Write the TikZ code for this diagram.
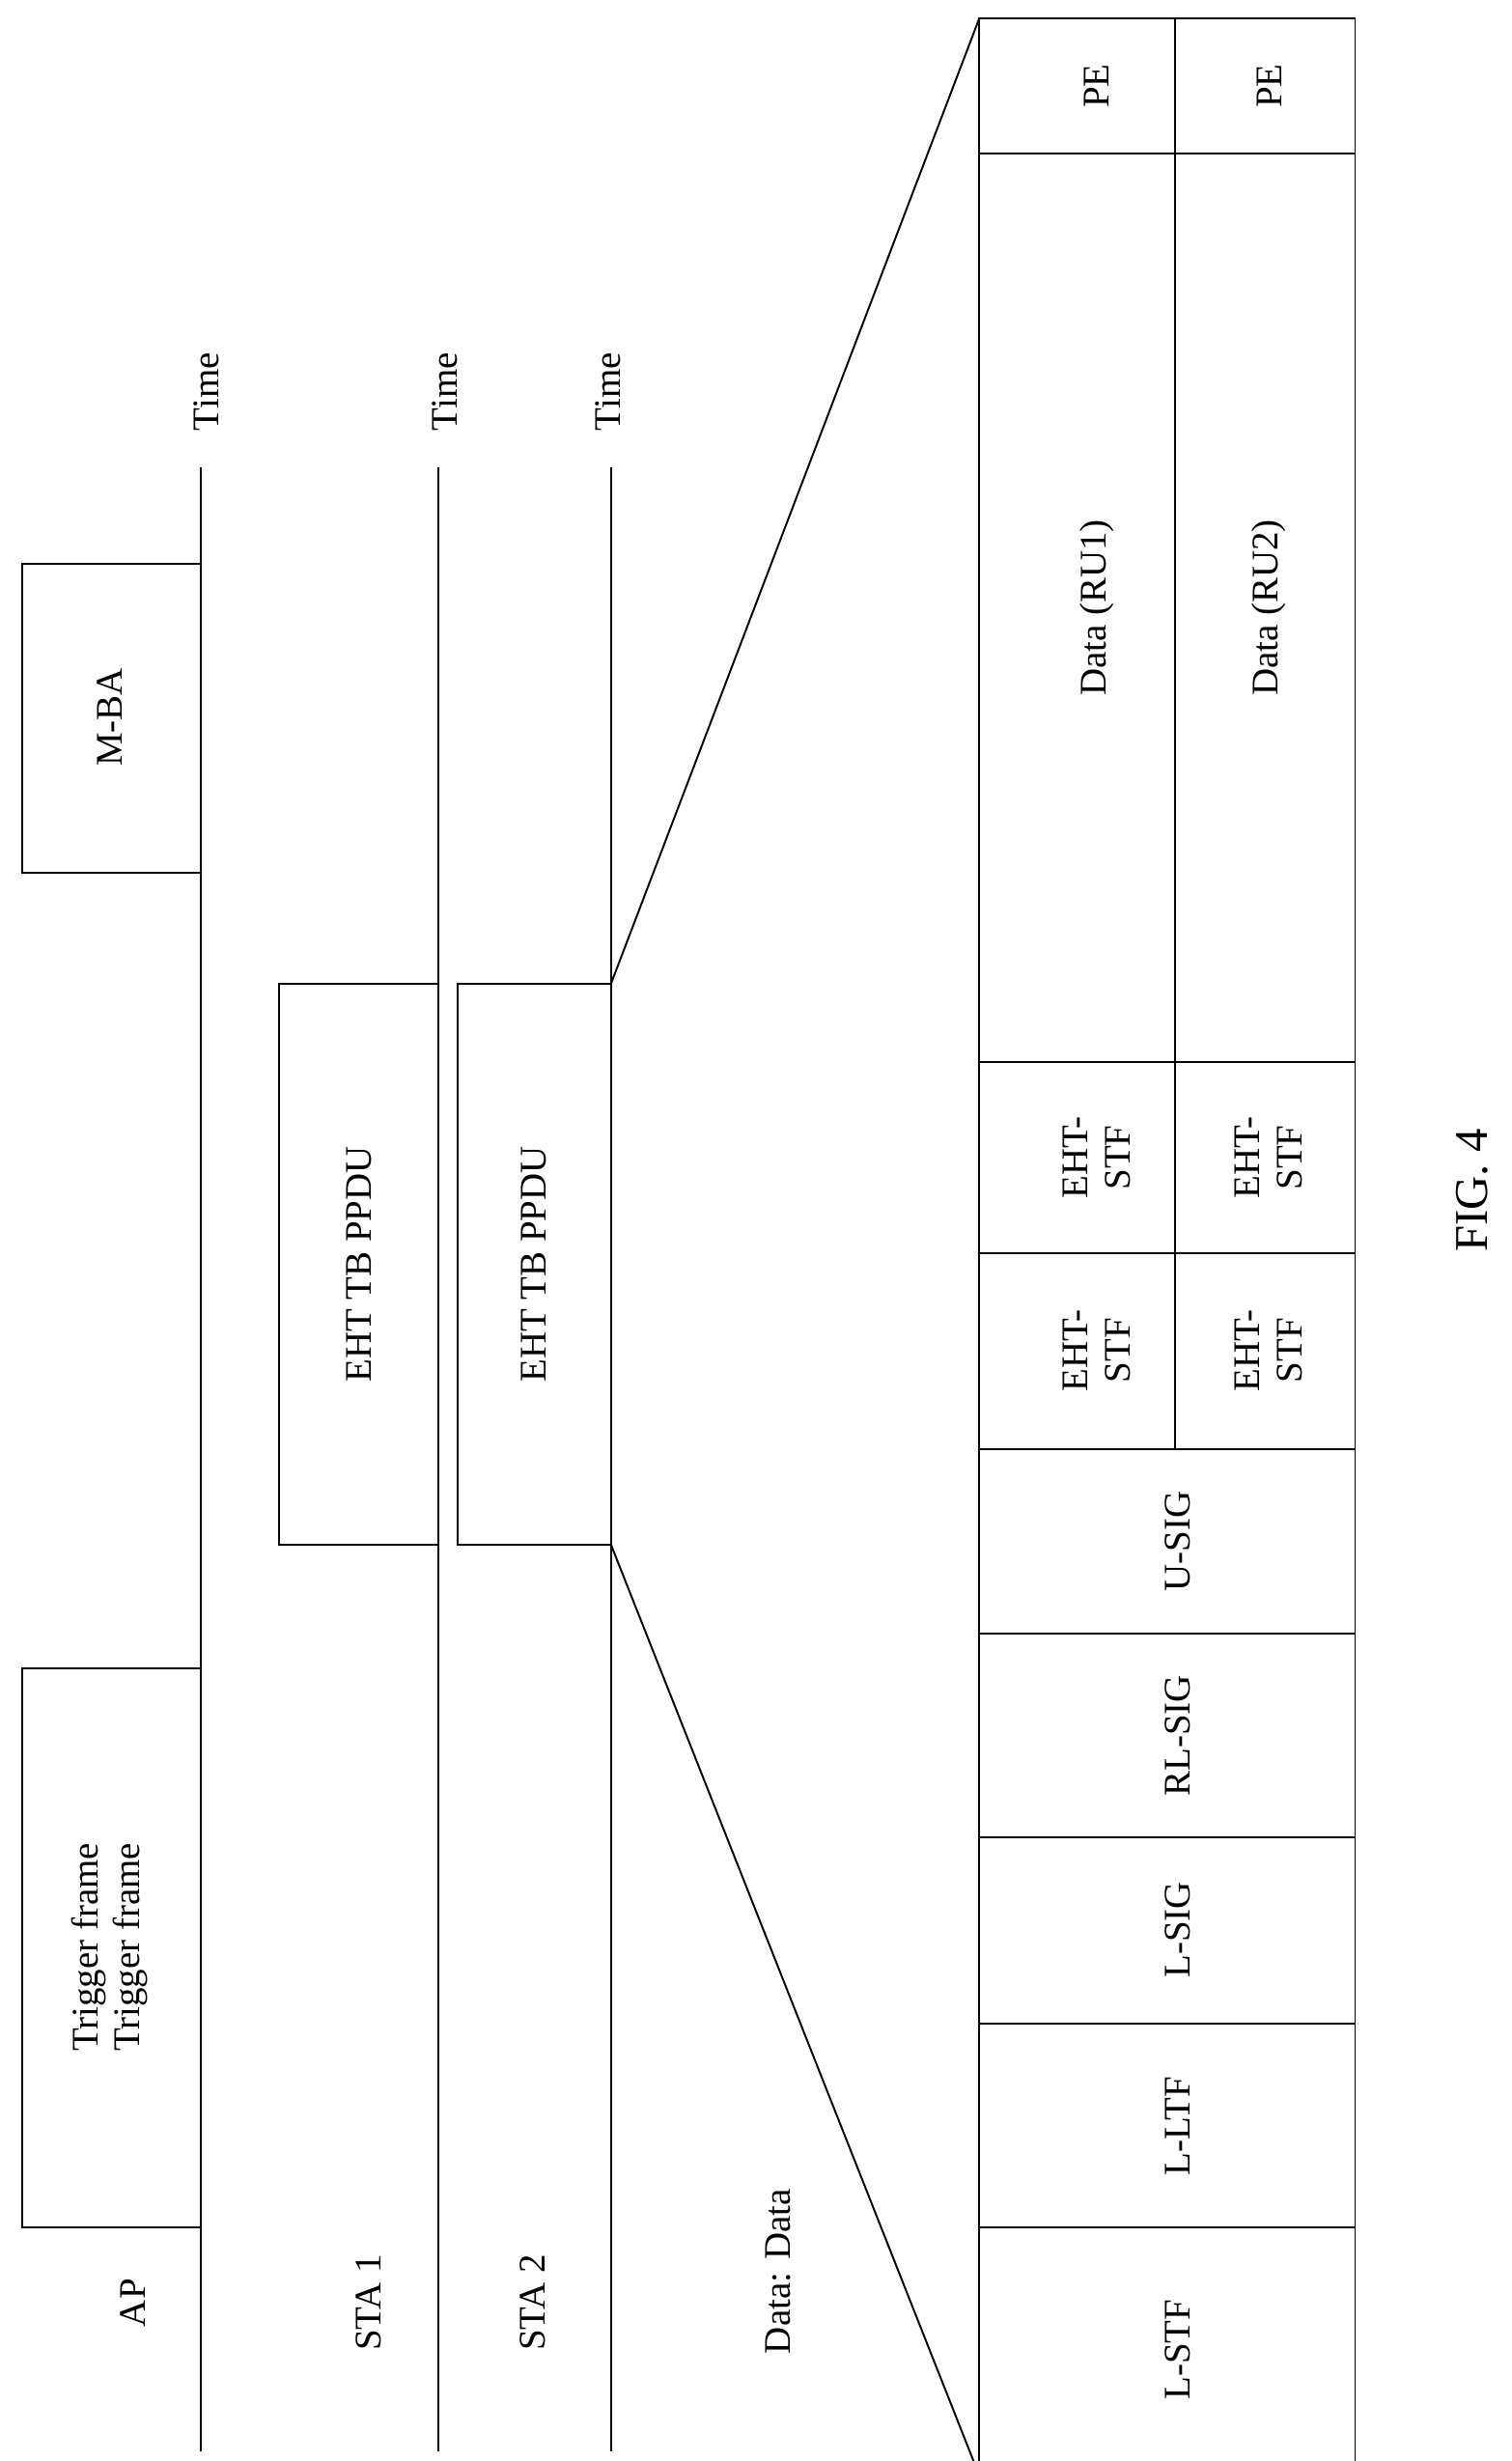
\documentclass[tikz,border=0pt]{standalone}
\usepackage{fontspec}
\setmainfont{Liberation Serif}
\begin{document}
\begin{tikzpicture}[x=1pt,y=-1pt,line width=1.2pt,
  t/.style={rotate=90,font=\fontsize{24}{27}\selectfont,align=center,inner sep=0pt},
  b/.style={draw}]
\useasboundingbox (0,0) rectangle (965,1571);
% time lines
\coordinate (ap0) at (128,1565); \coordinate (ap1) at (128,298);
\coordinate (s10) at (280,1565); \coordinate (s11) at (280,298);
\coordinate (s20) at (390,1565); \coordinate (s21) at (390,298);
\draw (ap0)--(ap1); \draw (s10)--(s11); \draw (s20)--(s21);
\node[t] (tap) at (132,250) {Time};
\node[t] (ts1) at (284,250) {Time};
\node[t] (ts2) at (388,250) {Time};
\node[t] (lap) at (85,1470) {AP};
\node[t] (ls1) at (235,1470) {STA 1};
\node[t] (ls2) at (340,1470) {STA 2};
\node[t] (ldata) at (497,1450) {Data: Data};
% boxes
\draw[fill=white] (14,1065) rectangle (128,1422);
\node[t] (trig) at (70,1243) {Trigger frame\\Trigger frame};
\draw[fill=white] (14,360) rectangle (128,557);
\node[t] (mba) at (70,458) {M-BA};
\draw[fill=white] (178,628) rectangle (280,986);
\node[t] (e1) at (229,807) {EHT TB PPDU};
\draw[fill=white] (292,628) rectangle (390,986);
\node[t] (e2) at (341,807) {EHT TB PPDU};
% zoom lines
\draw (390,986)--(625,1580);
\draw (390,628)--(625,12);
% table
\draw (625,12) rectangle (865,1580);
\draw (750,12)--(750,925);
\foreach \yy in {98,678,800,925,1043,1173,1292,1422} \draw (625,\yy)--(865,\yy);
\node[t] at (700,55) {PE};
\node[t] at (810,55) {PE};
\node[t] at (700,388) {Data (RU1)};
\node[t] at (810,388) {Data (RU2)};
\node[t] at (700,739) {EHT-\\STF};
\node[t] at (810,739) {EHT-\\STF};
\node[t] at (700,862) {EHT-\\STF};
\node[t] at (810,862) {EHT-\\STF};
\node[t] at (752,984) {U-SIG};
\node[t] at (752,1108) {RL-SIG};
\node[t] at (752,1232) {L-SIG};
\node[t] at (752,1357) {L-LTF};
\node[t] at (752,1500) {L-STF};
\node[t,font=\fontsize{30}{34}\selectfont] at (940,760) {FIG. 4};
\end{tikzpicture}
\end{document}
